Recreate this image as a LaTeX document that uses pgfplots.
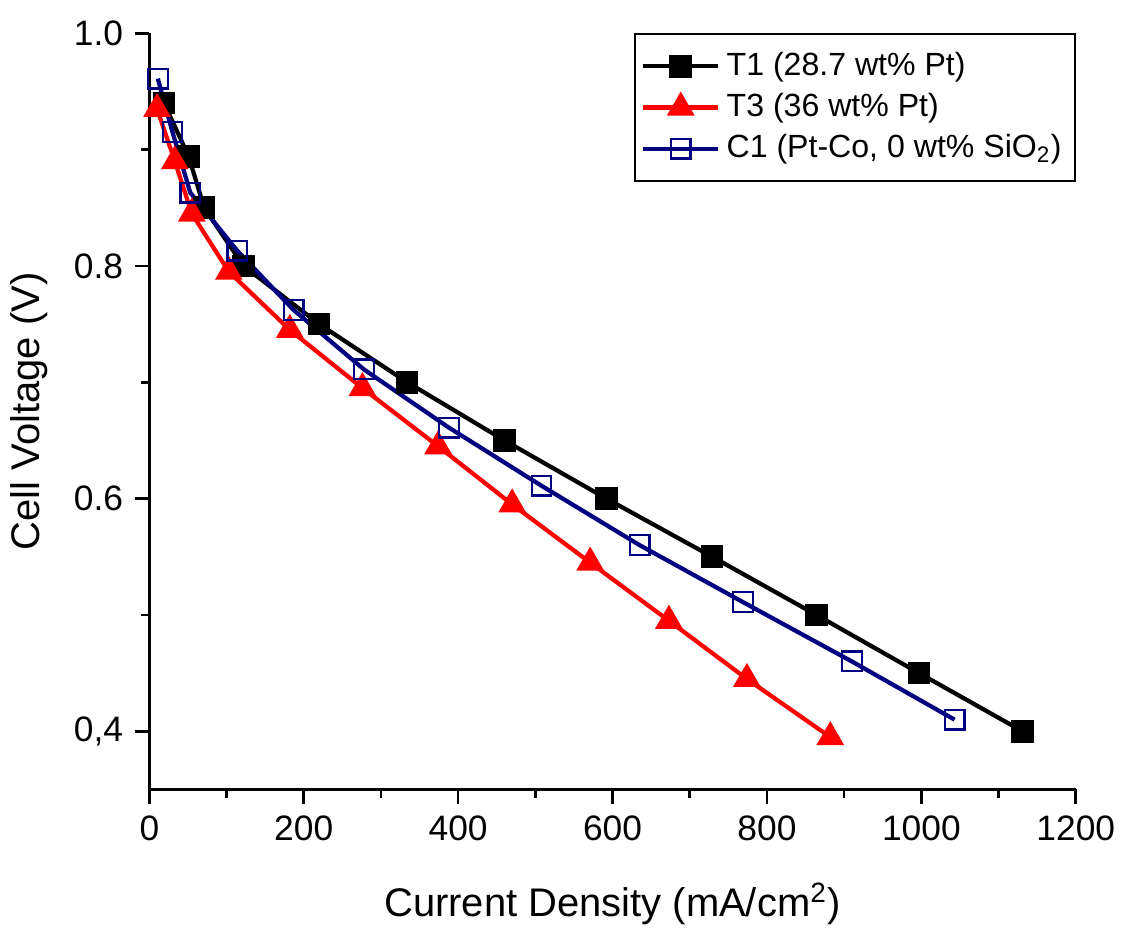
\documentclass[border=0pt]{standalone}
\usepackage{fontspec}
\setmainfont{Liberation Sans}
\usepackage{pgfplots}
\pgfplotsset{compat=1.18}
\definecolor{navyline}{RGB}{0,0,128}

\begin{document}
\begin{tikzpicture}
\begin{axis}[
    scale only axis,
    width=283pt,
    height=231pt,
    xmin=0, xmax=1200,
    ymin=0.35, ymax=1.0,
    axis x line=bottom,
    axis y line=left,
    axis line style={line width=0.9pt,-},
    tick style={line width=0.8pt,black},
    tick align=outside,
    major tick length=4.5pt,
    minor tick length=2.6pt,
    xtick={0,200,400,600,800,1000,1200},
    xticklabels={0,200,400,600,800,1000,1200},
    minor x tick num=1,
    ytick={0.4,0.6,0.8,1.0},
    yticklabels={{0,4},0.6,0.8,1.0},
    minor y tick num=1,
    ticklabel style={font=\fontsize{10.8}{12}\selectfont},
    /pgf/number format/assume math mode=true,
    xlabel={Current Density (mA/cm\textsuperscript{2})},
    ylabel={Cell Voltage (V)},
    label style={font=\fontsize{12.2}{14}\selectfont},
    xlabel style={yshift=-6pt},
    ylabel style={yshift=1pt},
    legend style={
        at={(1,1)}, anchor=north east,
        draw=black, line width=0.6pt,
        font=\fontsize{9.8}{12}\selectfont,
        cells={anchor=west},
        row sep=0pt,
        inner xsep=2pt, inner ysep=3.5pt
    },
    legend image code/.code={
        \draw[mark repeat=2,mark phase=2] plot coordinates {(0cm,0cm)(0.4cm,0cm)(0.8cm,0cm)};
    },
]
% T1
\addplot[black, line width=1.3pt, mark=square*, mark size=2.8pt, mark options={solid}] coordinates {
    (19,0.94) (51,0.894) (71,0.85) (122,0.80) (220,0.75) (334,0.70)
    (460,0.65) (592,0.60) (729,0.55) (864,0.50) (997,0.45) (1131,0.40)
};
% T3
\addplot[red, line width=1.3pt, mark=triangle*, mark size=3.6pt, mark options={solid}] coordinates {
    (10,0.935) (33,0.89) (55,0.845) (103,0.795) (182,0.745) (276,0.695)
    (374,0.645) (470,0.595) (571,0.545) (673,0.495) (774,0.445) (882,0.395)
};
% C1
\addplot[navyline, line width=1.3pt, mark=square, mark size=3pt, mark options={solid, fill=white, draw=navyline, line width=0.7pt}] coordinates {
    (11,0.961) (30,0.915) (53,0.863) (114,0.813) (187,0.762) (278,0.711)
    (388,0.661) (508,0.611) (635,0.56) (769,0.511) (910,0.46) (1043,0.41)
};
\legend{T1 (28.7 wt\% Pt), T3 (36 wt\% Pt), {C1 (Pt-Co, 0 wt\% SiO\textsubscript{2})}}
\end{axis}
\path ([yshift=3pt]current bounding box.north);
\end{tikzpicture}
\end{document}
